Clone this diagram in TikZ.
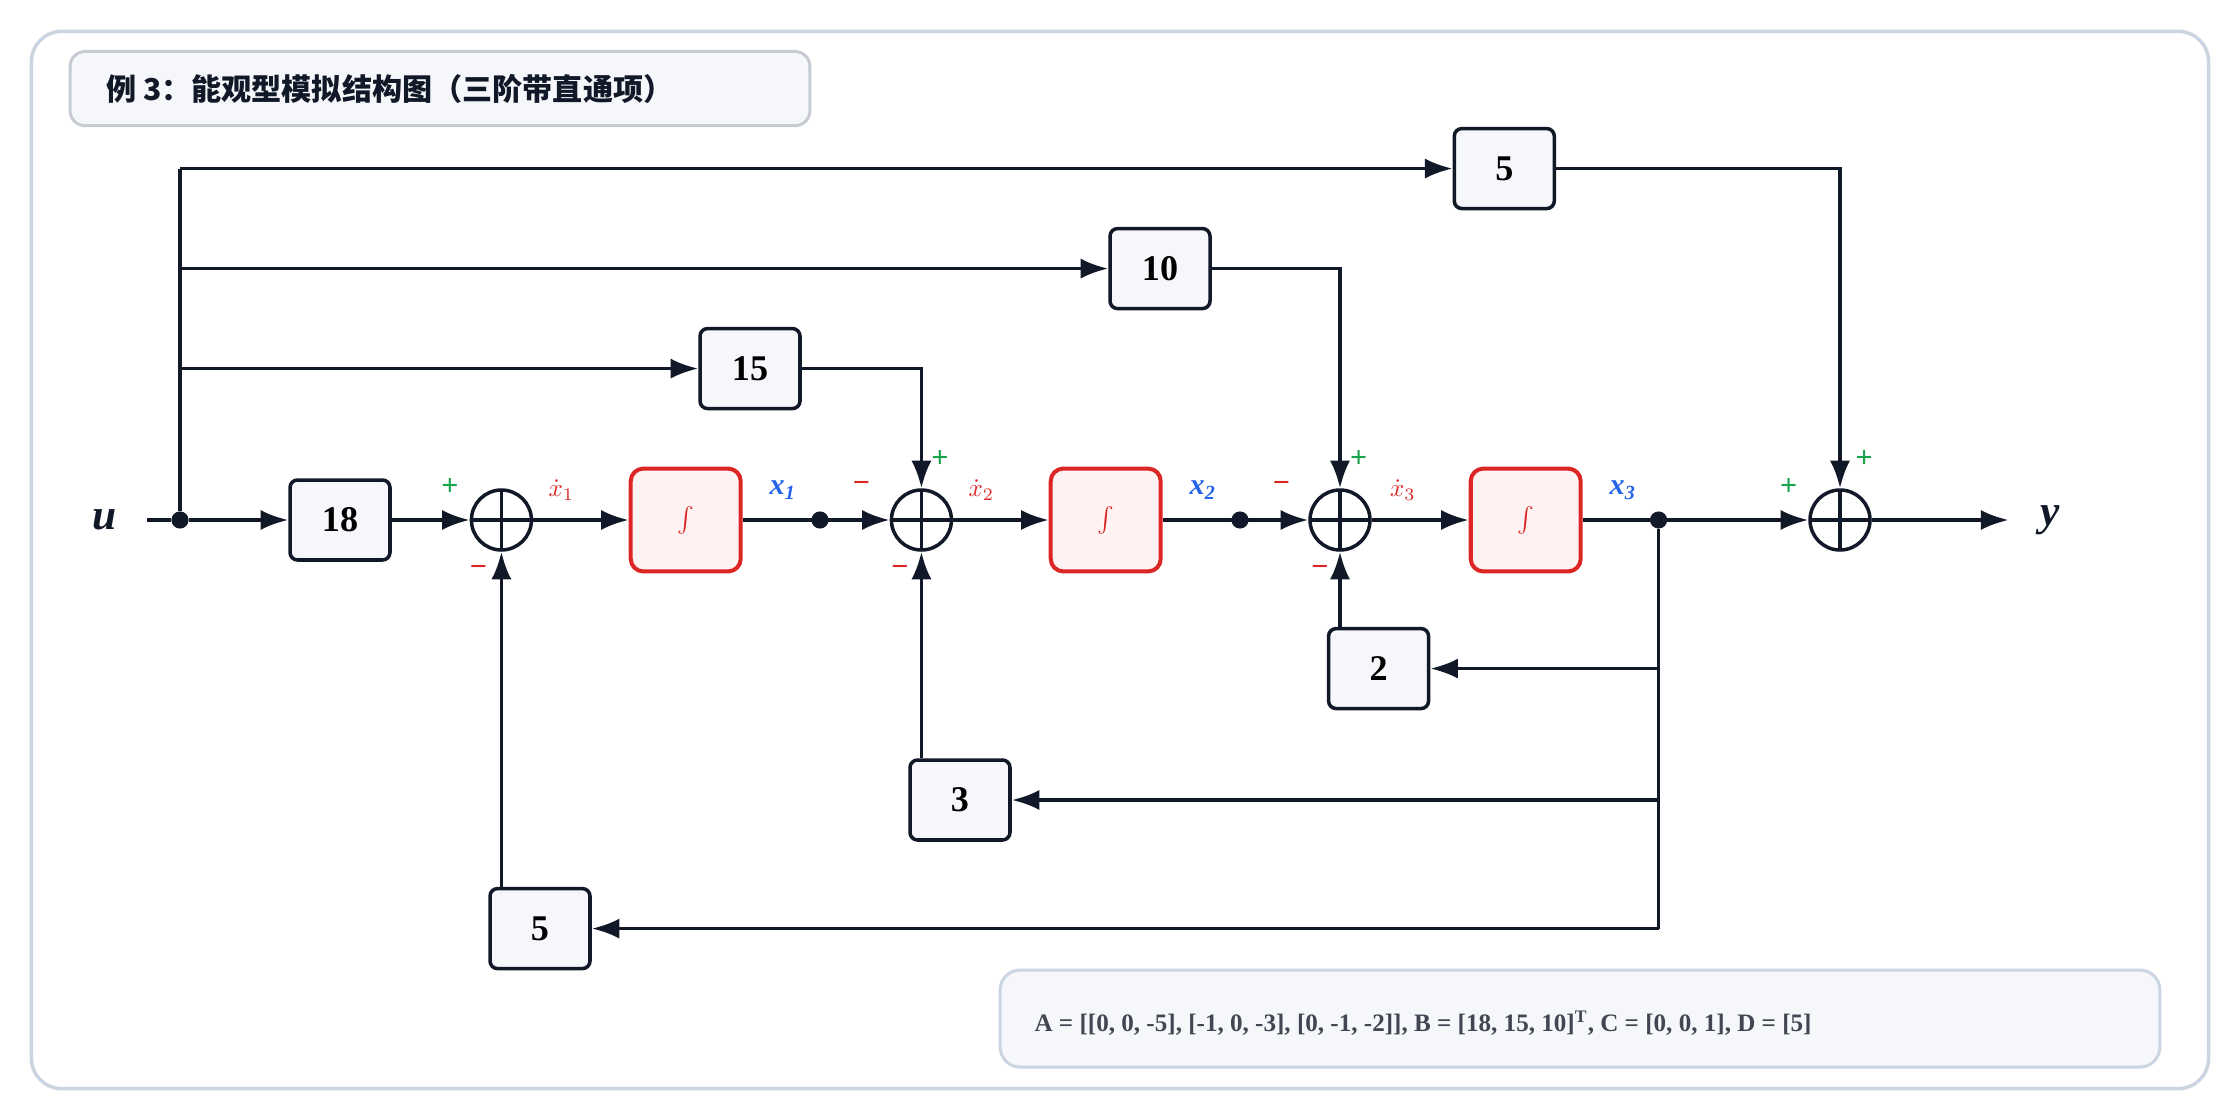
\documentclass[tikz,border=0pt]{standalone}
\usepackage{fontspec}
\setmainfont{Liberation Serif}
\newfontfamily\cjk{Noto Sans CJK SC}
\usetikzlibrary{positioning,arrows.meta}

\definecolor{ink}{HTML}{111827}
\definecolor{frame}{HTML}{CBD5E1}
\definecolor{intred}{HTML}{DC2626}
\definecolor{intfill}{HTML}{FEF2F2}
\definecolor{boxfill}{HTML}{F5F7FA}
\definecolor{plusgreen}{HTML}{16A34A}
\definecolor{sigblue}{HTML}{2563EB}

\tikzset{
  gainbox/.style={draw=ink, line width=1.4pt, rounded corners=3pt, fill=boxfill,
    minimum width=1.4cm, minimum height=1.12cm, font=\bfseries\Large},
  intbox/.style={draw=intred, line width=1.6pt, rounded corners=5pt, fill=intfill,
    minimum width=1.54cm, minimum height=1.44cm, text=intred, font=\Large},
  sumnode/.style={draw=ink, line width=1.4pt, circle, minimum size=0.84cm, fill=white,
    path picture={\draw[ink, line width=1.4pt] (path picture bounding box.north) -- (path picture bounding box.south)
      (path picture bounding box.west) -- (path picture bounding box.east);}},
  sig/.style={draw=ink, line width=1.4pt, -{Latex[length=11pt,width=8pt]}},
  wire/.style={draw=ink, line width=1.4pt},
  dot/.style={circle, fill=ink, inner sep=0pt, minimum size=0.24cm},
  pl/.style={text=plusgreen, font=\bfseries\large},
  mi/.style={text=intred, font=\bfseries\large},
  xd/.style={text=intred, font=\bfseries\itshape},
  xs/.style={text=sigblue, font=\bfseries\itshape\large},
}

\begin{document}
\begin{tikzpicture}[x=0.02cm, y=-0.02cm]
  \useasboundingbox (0,0) rectangle (1568,784);
  % frame and title
  \draw[frame, line width=1.4pt, rounded corners=12pt, fill=white] (22,22) rectangle (1546,762);
  \node[draw=frame!80!black!60, line width=1.2pt, fill=boxfill, rounded corners=6pt,
    minimum width=10.36cm, minimum height=1.04cm] (title) at (308,62) {};
  \node[anchor=west, font=\cjk\bfseries\large, text=ink] (titletext) at (68,62) {例 3：能观型模拟结构图（三阶带直通项）};

  % main chain
  \node[font=\bfseries\itshape\LARGE, text=ink] (u) at (73,364) {u};
  \node[dot] (du) at (126,364) {};
  \node[gainbox] (g18) at (238,364) {18};
  \node[sumnode] (s1) at (351,364) {};
  \node[intbox] (i1) at (480,364) {$\int$};
  \node[dot] (d1) at (574,364) {};
  \node[sumnode] (s2) at (645,364) {};
  \node[intbox] (i2) at (774,364) {$\int$};
  \node[dot] (d2) at (868,364) {};
  \node[sumnode] (s3) at (938,364) {};
  \node[intbox] (i3) at (1068,364) {$\int$};
  \node[dot] (d3) at (1161,364) {};
  \node[sumnode] (s4) at (1288,364) {};
  \coordinate (yend) at (1406,364);
  \node[font=\bfseries\itshape\LARGE, text=ink] (y) at (1435,364) {y};
  \coordinate (ustart) at (103,364);

  \draw[wire] (ustart) -- (du);
  \draw[sig] (du) -- (g18);
  \draw[sig] (g18) -- (s1);
  \draw[sig] (s1) -- (i1);
  \draw[sig] (i1) -- (s2);
  \draw[sig] (s2) -- (i2);
  \draw[sig] (i2) -- (s3);
  \draw[sig] (s3) -- (i3);
  \draw[sig] (i3) -- (s4);
  \draw[sig] (s4) -- (yend);

  % feedforward branches
  \node[gainbox] (f5) at (1053,118) {5};
  \node[gainbox] (f10) at (812,188) {10};
  \node[gainbox] (f15) at (525,258) {15};
  \draw[wire] (du) -- (126,118);
  \draw[sig] (126,118) -- (f5);
  \draw[sig] (126,188) -- (f10);
  \draw[sig] (126,258) -- (f15);
  \draw[sig] (f5) -| (s4);
  \draw[sig] (f10) -| (s3);
  \draw[sig] (f15) -| (s2);

  % feedback branches
  \node[gainbox] (b2) at (965,468) {2};
  \node[gainbox] (b3) at (672,560) {3};
  \node[gainbox] (b5) at (378,650) {5};
  \draw[wire] (d3) -- (1161,650);
  \draw[sig] (1161,468) -- (b2);
  \draw[sig] (1161,560) -- (b3);
  \draw[sig] (1161,650) -- (b5);
  \draw[sig] (s3 |- b2.north) -- (s3);
  \draw[sig] (s2 |- b3.north) -- (s2);
  \draw[sig] (s1 |- b5.north) -- (s1);

  % signs and signal names
  \node[pl] (p1) at (315,341) {+};
  \node[mi] (m1) at (335,400) {\textbf{\char"2212}};
  \node[mi] (m2a) at (603,341) {\textbf{\char"2212}};
  \node[pl] (p2) at (658,321) {+};
  \node[mi] (m2b) at (630,400) {\textbf{\char"2212}};
  \node[mi] (m3a) at (897,341) {\textbf{\char"2212}};
  \node[pl] (p3) at (951,321) {+};
  \node[mi] (m3b) at (924,400) {\textbf{\char"2212}};
  \node[pl] (p4a) at (1252,341) {+};
  \node[pl] (p4b) at (1305,321) {+};
  \node[xd] (xd1) at (393,343) {$\dot{x}_1$};
  \node[xs] (x1) at (548,343) {x\textsubscript{1}};
  \node[xd] (xd2) at (687,343) {$\dot{x}_2$};
  \node[xs] (x2) at (842,343) {x\textsubscript{2}};
  \node[xd] (xd3) at (982,343) {$\dot{x}_3$};
  \node[xs] (x3) at (1136,343) {x\textsubscript{3}};

  % matrices note
  \node[draw=frame, line width=1.2pt, fill=boxfill, rounded corners=8pt,
    minimum width=16.24cm, minimum height=1.36cm] (note) at (1106,713) {};
  \node[anchor=west, font=\bfseries, text=ink!80] (notetext) at (718,716)
    {A = [[0, 0, -5], [-1, 0, -3], [0, -1, -2]], B = [18, 15, 10]\textsuperscript{T}, C = [0, 0, 1], D = [5]};
\end{tikzpicture}
\end{document}
